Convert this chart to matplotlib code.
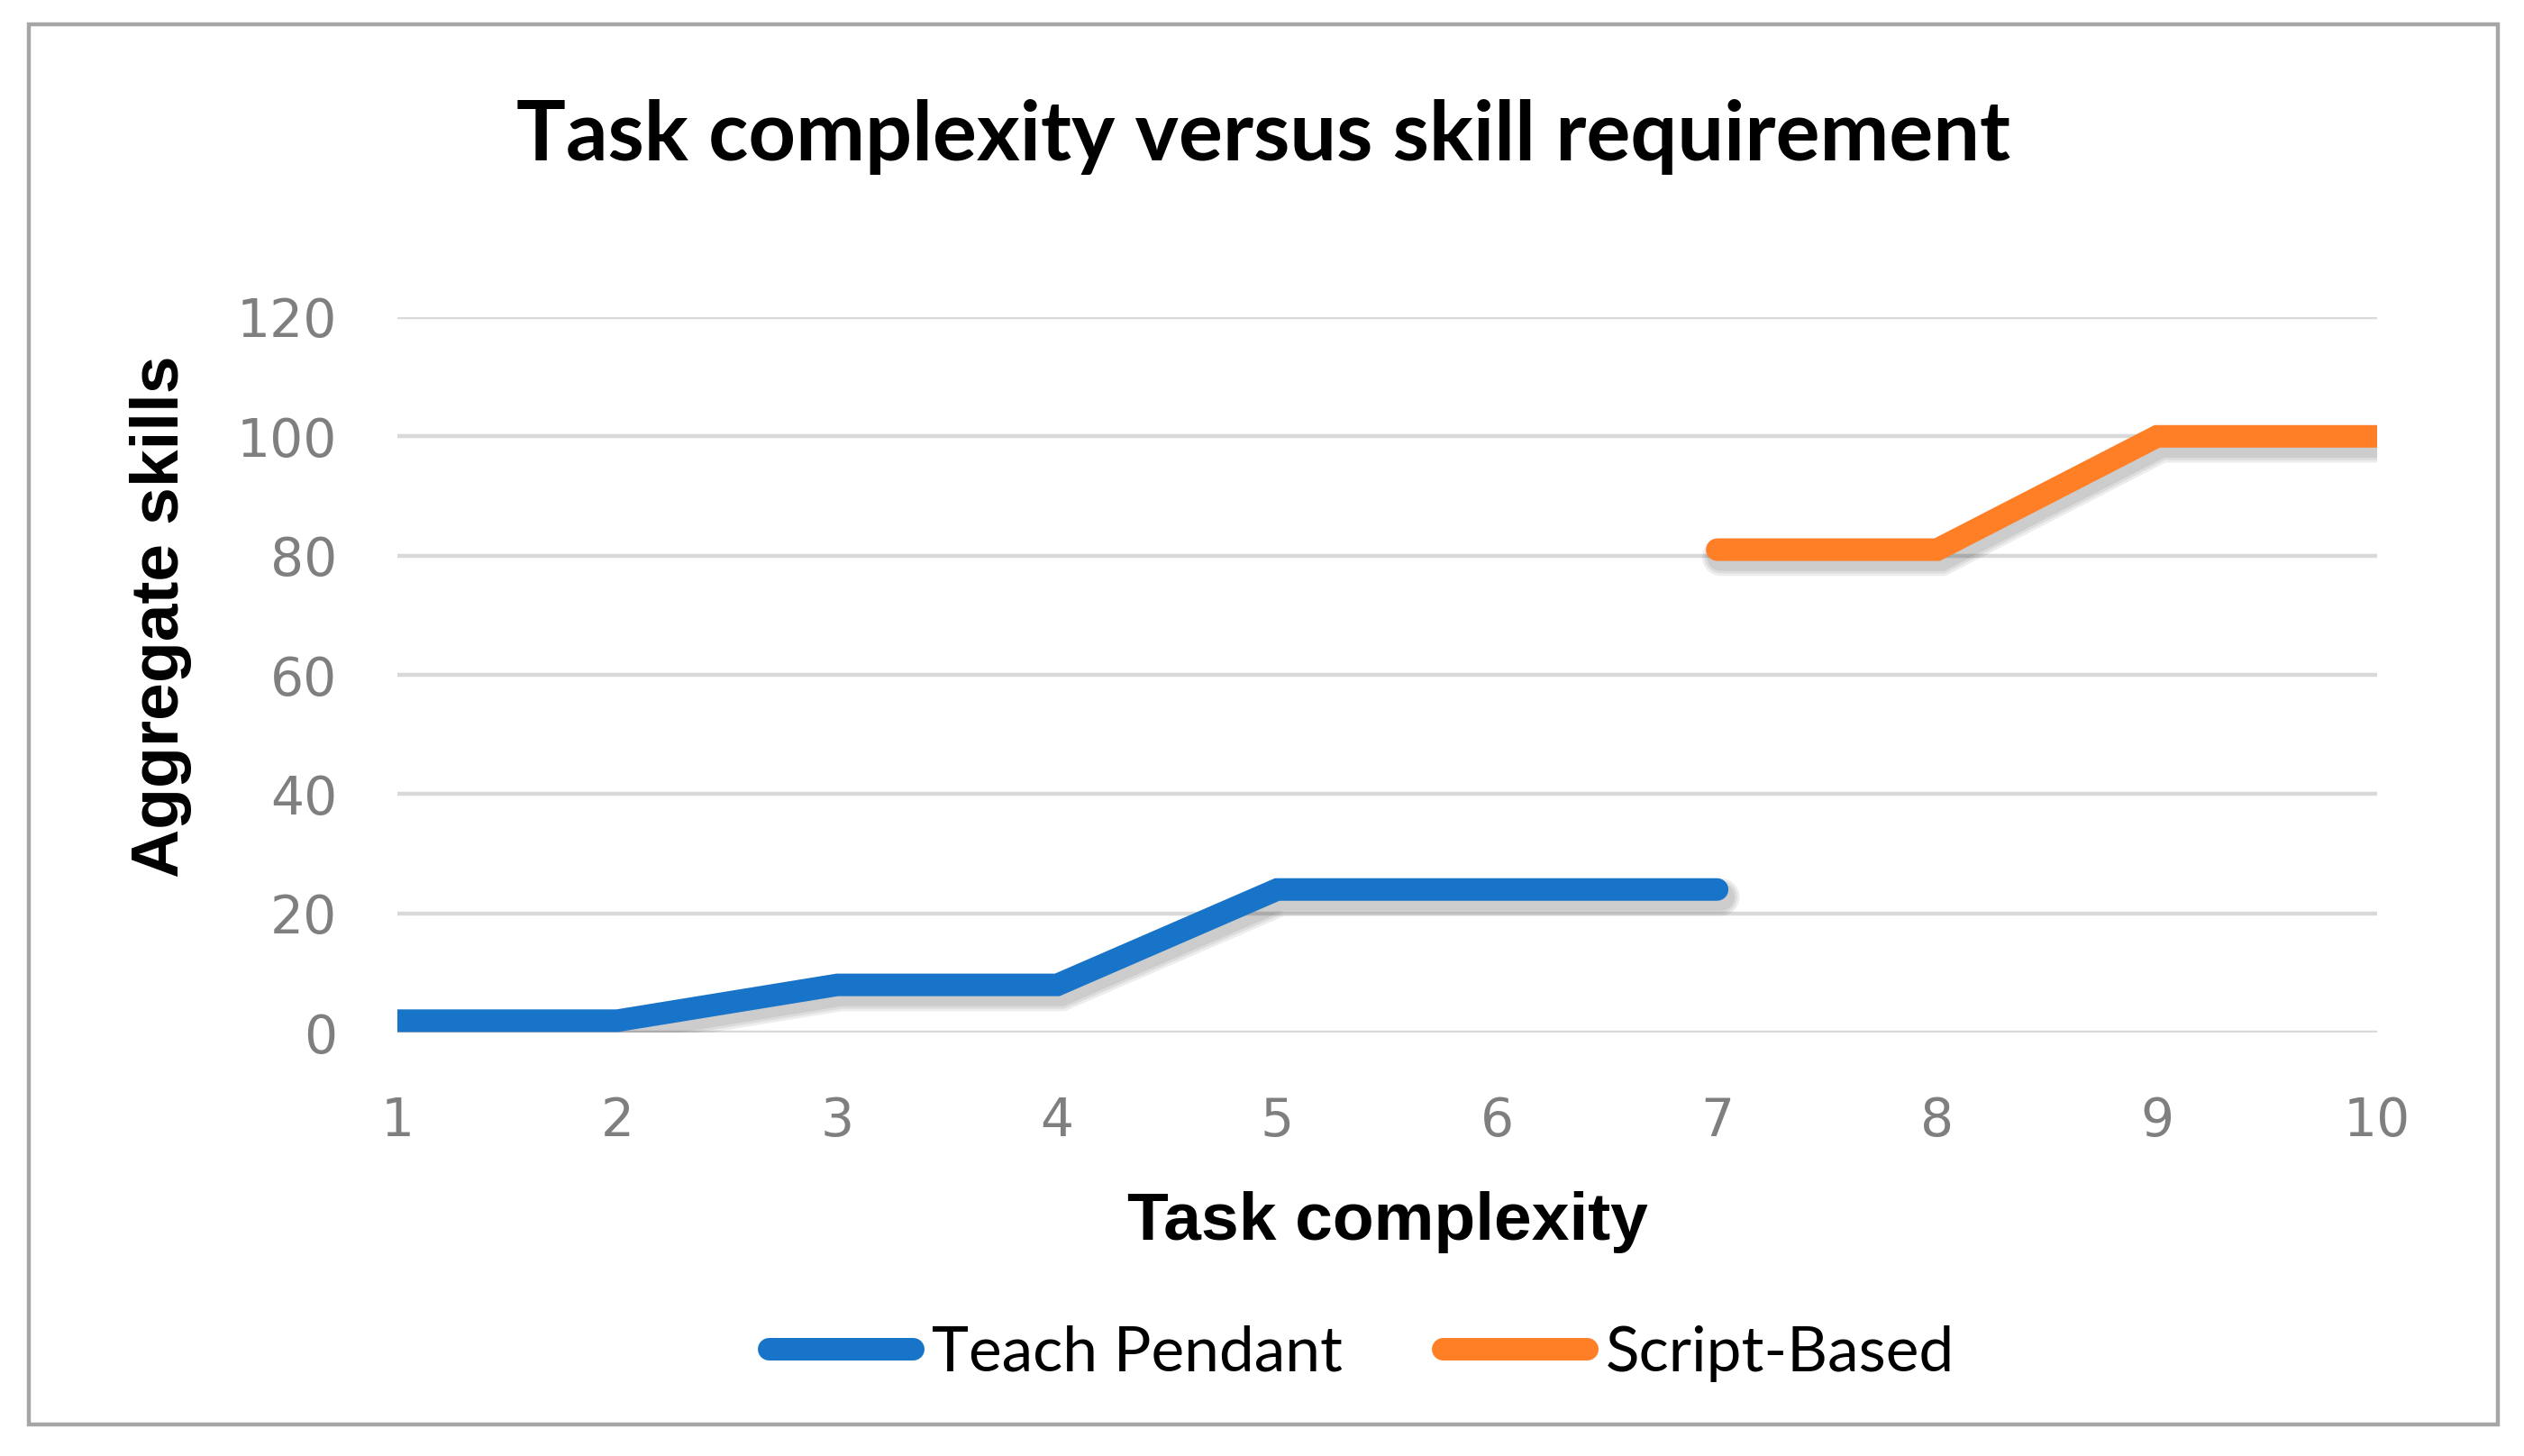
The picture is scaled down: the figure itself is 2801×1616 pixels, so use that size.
import matplotlib
matplotlib.use("Agg")
import matplotlib.pyplot as plt
import matplotlib.patheffects as pe
from matplotlib.patches import Rectangle

# data
complexity = [1, 2, 3, 4, 5, 6, 7, 8, 9, 10]
teach_x = [1, 2, 3, 4, 5, 6, 7]
teach_y = [2, 2, 8, 8, 24, 24, 24]
script_x = [7, 8, 9, 10]
script_y = [81, 81, 100, 100]
y_ticks = [0, 20, 40, 60, 80, 100, 120]

blue = '#1874C8'
orange = '#FF7F27'

fig = plt.figure(figsize=(14.005, 8.08), dpi=200)
ax = fig.add_axes([0.1574, 0.2908, 0.7844, 0.4914])

# soft drop shadow like the office chart
shadow = [pe.SimpleLineShadow(offset=(1.5, -3), shadow_color='k', alpha=0.07, linewidth=w)
          for w in (15, 13, 11)] + [pe.Normal()]

ax.plot(teach_x, teach_y, color=blue, lw=9, solid_capstyle='round',
        solid_joinstyle='miter', label='Teach Pendant', path_effects=shadow, zorder=3)
ax.plot(script_x, script_y, color=orange, lw=9, solid_capstyle='round',
        solid_joinstyle='miter', label='Script-Based', path_effects=shadow, zorder=3)

ax.set_xlim(1, 10)
ax.set_ylim(0, 120)
ax.set_xticks(complexity)
ax.set_yticks(y_ticks)
ax.grid(True, axis='y', color='#d9d9d9', lw=1.6)
ax.set_axisbelow(True)
for s in ax.spines.values():
    s.set_visible(False)
ax.tick_params(length=0, labelsize=21, labelcolor='#7f7f7f')
ax.tick_params(axis='y', pad=24)
ax.tick_params(axis='x', pad=25)

fig.text(0.5006, 0.906, 'Task complexity versus skill requirement', ha='center', va='center',
         fontsize=33, fontweight='bold', family='Lato')
fig.text(0.0639, 0.5767, 'Aggregate skills', ha='center', va='center', rotation=90,
         fontsize=27, fontweight='bold', family='Liberation Sans')
fig.text(0.5498, 0.1603, 'Task complexity', ha='center', va='center',
         fontsize=27, fontweight='bold', family='Liberation Sans')

leg = fig.legend(loc='center', bbox_to_anchor=(0.5395, 0.0705), ncol=2, frameon=False,
                 prop={'family': 'Lato', 'size': 25}, handlelength=2.3, handletextpad=0.3,
                 columnspacing=1.6)
for h in leg.get_lines():
    h.set_linewidth(9)
    h.set_solid_capstyle('round')
    h.set_path_effects([])

fig.patches.append(Rectangle((0.0114, 0.0217), 0.9782, 0.9616, transform=fig.transFigure,
                             fill=False, edgecolor='#a6a6a6', lw=1.6))

fig.savefig('out.png', dpi=200, facecolor='white')
